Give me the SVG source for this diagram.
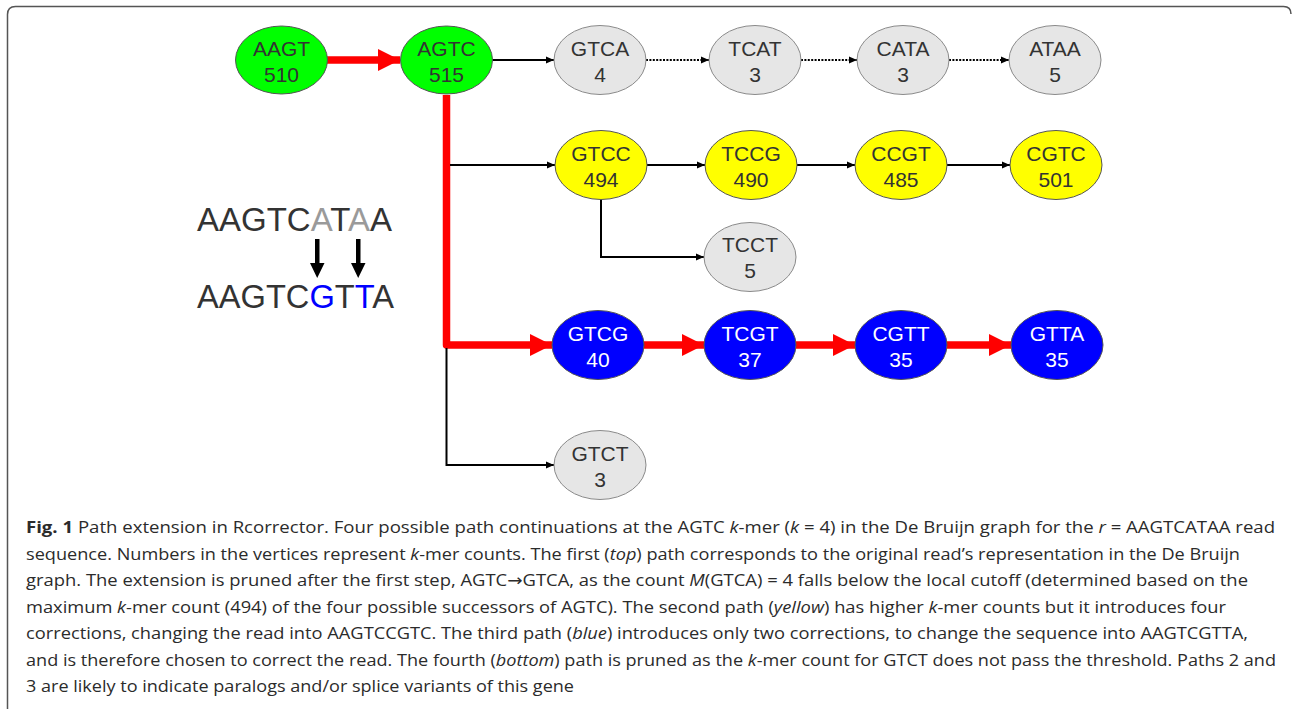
<svg xmlns="http://www.w3.org/2000/svg" width="1292" height="709" viewBox="0 0 1292 709">
<style>
.n ellipse{stroke:#555;stroke-width:1}
.green ellipse{fill:#00ff00}
.grey ellipse{fill:#e6e6e6;stroke:#8a8a8a}
.yellow ellipse{fill:#ffff00}
.blue ellipse{fill:#0000ff}
.n text{font-family:"Liberation Sans",Arial,sans-serif;font-size:21px;text-anchor:middle;fill:#333}
.blue text{fill:#ffffff}
.blk{fill:none;stroke:#000;stroke-width:2;marker-end:url(#ab)}
.dot{stroke-dasharray:2 1.4}
.red{fill:none;stroke:#ff0000;stroke-width:7.5;stroke-linejoin:round;marker-end:url(#ar)}
.cap{font-family:"Open Sans","Noto Sans",sans-serif;font-size:16.5px;fill:#2b2b2b}
.seq{font-family:"Liberation Sans",Arial,sans-serif;font-size:32.5px;fill:#333}
.arw{font-family:"DejaVu Sans",sans-serif}
</style>
<defs>
<marker id="ab" markerUnits="userSpaceOnUse" markerWidth="9" markerHeight="9" refX="8" refY="4.5" orient="auto">
<path d="M0,1 L8,4.5 L0,8 Z" fill="#000"/>
</marker>
<marker id="ar" markerUnits="userSpaceOnUse" markerWidth="23" markerHeight="24" refX="22" refY="12" orient="auto">
<path d="M0,1 L22,12 L0,23 Z" fill="#ff0000"/>
</marker>
</defs>
<rect width="1292" height="709" fill="#fff"/>
<path d="M7.5,709 V14.5 Q7.5,6.5 15.5,6.5 H1283.5 Q1291,6.5 1291,14" fill="none" stroke="#555" stroke-width="1.5"/>

<g id="connectors">
<path class="red" d="M327,60 H400"/>
<path class="red" d="M446.5,95 V345 H552"/>
<path class="red" d="M644,345 H704"/>
<path class="red" d="M796,345 H855"/>
<path class="red" d="M947,345 H1011"/>
<path class="blk" d="M492.5,60 H554"/>
<path class="blk dot" d="M646,60 H709"/>
<path class="blk dot" d="M801,60 H857"/>
<path class="blk dot" d="M949,60 H1009"/>
<path class="blk" d="M450,165 H555"/>
<path class="blk" d="M647,165 H705"/>
<path class="blk" d="M797,165 H855"/>
<path class="blk" d="M947,165 H1010"/>
<path class="blk" d="M601,199.5 V257 H704"/>
<path class="blk" d="M446.5,348 V465 H554"/>
</g>

<g id="n-AAGT" class="n green"><ellipse cx="281.5" cy="60" rx="46" ry="34"/><text x="281.5" y="55.5">AAGT</text><text x="281.5" y="81.5">510</text></g>
<g id="n-AGTC" class="n green"><ellipse cx="446.5" cy="60" rx="46" ry="34"/><text x="446.5" y="55.5">AGTC</text><text x="446.5" y="81.5">515</text></g>
<g id="n-GTCA" class="n grey"><ellipse cx="600" cy="60" rx="46" ry="34.5"/><text x="600" y="55.5">GTCA</text><text x="600" y="81.5">4</text></g>
<g id="n-TCAT" class="n grey"><ellipse cx="755" cy="60" rx="46" ry="34.5"/><text x="755" y="55.5">TCAT</text><text x="755" y="81.5">3</text></g>
<g id="n-CATA" class="n grey"><ellipse cx="903" cy="60" rx="46" ry="34.5"/><text x="903" y="55.5">CATA</text><text x="903" y="81.5">3</text></g>
<g id="n-ATAA" class="n grey"><ellipse cx="1055" cy="60" rx="46" ry="34.5"/><text x="1055" y="55.5">ATAA</text><text x="1055" y="81.5">5</text></g>

<g id="n-GTCC" class="n yellow"><ellipse cx="601" cy="165" rx="46" ry="34.5"/><text x="601" y="160.5">GTCC</text><text x="601" y="186.5">494</text></g>
<g id="n-TCCG" class="n yellow"><ellipse cx="751" cy="165" rx="46" ry="34.5"/><text x="751" y="160.5">TCCG</text><text x="751" y="186.5">490</text></g>
<g id="n-CCGT" class="n yellow"><ellipse cx="901" cy="165" rx="46" ry="34.5"/><text x="901" y="160.5">CCGT</text><text x="901" y="186.5">485</text></g>
<g id="n-CGTC" class="n yellow"><ellipse cx="1056" cy="165" rx="46" ry="34.5"/><text x="1056" y="160.5">CGTC</text><text x="1056" y="186.5">501</text></g>

<g id="n-TCCT" class="n grey"><ellipse cx="750" cy="257" rx="46" ry="34.5"/><text x="750" y="252">TCCT</text><text x="750" y="278">5</text></g>

<g id="n-GTCG" class="n blue"><ellipse cx="598" cy="345" rx="46" ry="34.5"/><text x="598" y="340.5">GTCG</text><text x="598" y="366.5">40</text></g>
<g id="n-TCGT" class="n blue"><ellipse cx="750" cy="345" rx="46" ry="34.5"/><text x="750" y="340.5">TCGT</text><text x="750" y="366.5">37</text></g>
<g id="n-CGTT" class="n blue"><ellipse cx="901" cy="345" rx="46" ry="34.5"/><text x="901" y="340.5">CGTT</text><text x="901" y="366.5">35</text></g>
<g id="n-GTTA" class="n blue"><ellipse cx="1057" cy="345" rx="46" ry="34.5"/><text x="1057" y="340.5">GTTA</text><text x="1057" y="366.5">35</text></g>

<g id="n-GTCT" class="n grey"><ellipse cx="600" cy="465" rx="46" ry="34.5"/><text x="600" y="460.5">GTCT</text><text x="600" y="486.5">3</text></g>

<g id="read-correction">
<text class="seq" x="197" y="231" textLength="195" lengthAdjust="spacingAndGlyphs">AAGTC<tspan fill="#9a9a9a">A</tspan>T<tspan fill="#9a9a9a">A</tspan>A</text>
<text class="seq" x="197" y="308" textLength="197" lengthAdjust="spacingAndGlyphs">AAGTC<tspan fill="#0000ff">G</tspan>T<tspan fill="#0000ff">T</tspan>A</text>
<path d="M315,239 H319.5 V263 H324.5 L317.2,278 L310,263 H315 Z" fill="#000"/>
<path d="M356,239 H360.5 V263 H365.5 L358.2,278 L351,263 H356 Z" fill="#000"/>
</g>

<g id="caption" class="cap">
<text x="26" y="533" textLength="1249" lengthAdjust="spacingAndGlyphs"><tspan font-weight="bold">Fig. 1</tspan> Path extension in Rcorrector. Four possible path continuations at the AGTC <tspan font-style="italic">k</tspan>-mer (<tspan font-style="italic">k</tspan> = 4) in the De Bruijn graph for the <tspan font-style="italic">r</tspan> = AAGTCATAA read</text>
<text x="26" y="559.5" textLength="1214" lengthAdjust="spacingAndGlyphs">sequence. Numbers in the vertices represent <tspan font-style="italic">k</tspan>-mer counts. The first (<tspan font-style="italic">top</tspan>) path corresponds to the original read’s representation in the De Bruijn</text>
<text x="26" y="586" textLength="1222" lengthAdjust="spacingAndGlyphs">graph. The extension is pruned after the first step, AGTC<tspan class="arw">→</tspan>GTCA, as the count <tspan font-style="italic">M</tspan>(GTCA) = 4 falls below the local cutoff (determined based on the</text>
<text x="26" y="612.5" textLength="1200" lengthAdjust="spacingAndGlyphs">maximum <tspan font-style="italic">k</tspan>-mer count (494) of the four possible successors of AGTC). The second path (<tspan font-style="italic">yellow</tspan>) has higher <tspan font-style="italic">k</tspan>-mer counts but it introduces four</text>
<text x="26" y="639" textLength="1222" lengthAdjust="spacingAndGlyphs">corrections, changing the read into AAGTCCGTC. The third path (<tspan font-style="italic">blue</tspan>) introduces only two corrections, to change the sequence into AAGTCGTTA,</text>
<text x="26" y="665.5" textLength="1250" lengthAdjust="spacingAndGlyphs">and is therefore chosen to correct the read. The fourth (<tspan font-style="italic">bottom</tspan>) path is pruned as the <tspan font-style="italic">k</tspan>-mer count for GTCT does not pass the threshold. Paths 2 and</text>
<text x="26" y="692" textLength="548" lengthAdjust="spacingAndGlyphs">3 are likely to indicate paralogs and/or splice variants of this gene</text>
</g>
</svg>
